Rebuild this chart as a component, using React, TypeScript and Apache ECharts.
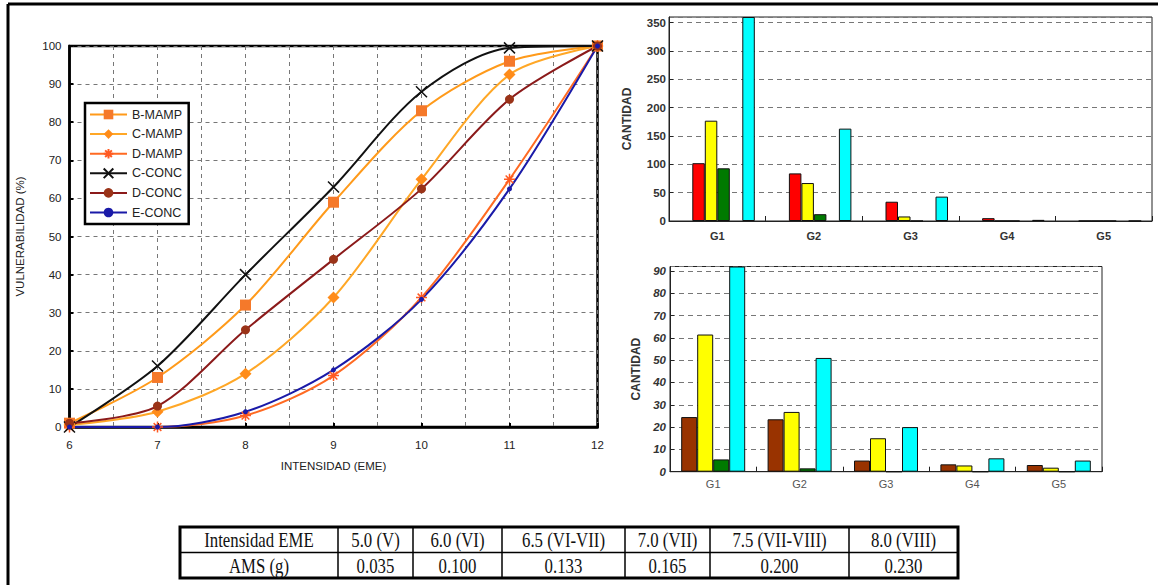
import React, { useEffect, useRef } from "react";
import * as echarts from "echarts";

// ---------- Left chart data ----------
const intensities = [6, 7, 8, 9, 10, 11, 12];
const seriesNames = ["B-MAMP", "C-MAMP", "D-MAMP", "C-CONC", "D-CONC", "E-CONC"];
const bMamp = [1, 13, 32, 59, 83, 96, 100];
const cMamp = [0.5, 4, 14, 34, 65, 92.5, 100];
const dMamp = [0, 0, 3, 13.5, 34, 65, 100];
const cConc = [0, 16, 40, 63, 88, 99.5, 100];
const dConc = [1, 5.5, 25.5, 44, 62.5, 86, 100];
const eConc = [0, 0, 4, 15, 33.5, 62.5, 100];
const yTicksLeft = [0, 100, 10];

// ---------- Right charts data ----------
const groups = ["G1", "G2", "G3", "G4", "G5"];
const topBlank = [0, 0, 0, 0, 0];
const topRed = [102, 84, 34, 5, 0];
const topYellow = [177, 67, 8, 0, 0];
const topGreen = [93, 12, 0, 0, 0];
const topEmpty = [0, 0, 0, 0, 0];
const topCyan = [360, 163, 43, 2, 0];

const botBrown = [24.5, 23.5, 5, 3.3, 3];
const botYellow = [61.5, 26.8, 15, 2.8, 1.8];
const botGreen = [5.5, 1.5, 0, 0, 0];
const botCyan = [92, 51, 20, 6, 5];

// ---------- Table data ----------
const tableHeader = ["Intensidad EME", "5.0 (V)", "6.0 (VI)", "6.5 (VI-VII)", "7.0 (VII)", "7.5 (VII-VIII)", "8.0 (VIII)"];
const tableRow = ["AMS (g)", "0.035", "0.100", "0.133", "0.165", "0.200", "0.230"];

const SANS = '"Liberation Sans", Arial, Helvetica, sans-serif';
const SERIF = '"Liberation Serif", "Times New Roman", serif';

const X_PATH = "path://M0,0L10,10M10,0L0,10";
const STAR_PATH = "path://M5,0L5,10M0,5L10,5M1.5,1.5L8.5,8.5M8.5,1.5L1.5,8.5";

function pairs(ys: number[]) {
  return intensities.map((x, i) => [x, ys[i]]);
}

function lineSeries(name: string, ys: number[], lineColor: string, markColor: string, symbol: string, size: number, stroked = false) {
  return {
    type: "line",
    name,
    xAxisIndex: 0,
    yAxisIndex: 0,
    data: pairs(ys),
    smooth: 0.3,
    symbol,
    symbolSize: size,
    showAllSymbol: true,
    lineStyle: { color: lineColor, width: 2 },
    itemStyle: stroked
      ? { color: markColor, borderColor: markColor, borderWidth: 1.5 }
      : { color: markColor, borderColor: markColor, borderWidth: 0 },
  };
}

function barSeries(name: string, data: number[], color: string, xi: number, width: number, border = true) {
  return {
    type: "bar",
    name,
    xAxisIndex: xi,
    yAxisIndex: xi,
    data,
    barWidth: width,
    barGap: "0%",
    itemStyle: { color, borderColor: border ? "#111" : "transparent", borderWidth: border ? 1 : 0 },
  };
}

export default function App() {
  const ref = useRef<HTMLDivElement>(null);
  useEffect(() => {
    document.body.style.margin = "0";
    const chart = echarts.init(ref.current!, null, { renderer: "svg" });

    const colEdges = [180, 338, 413, 502, 625, 710, 849, 958];
    const tTop = 527, tMid = 552.5, tBot = 578;
    const graphics: any[] = [
      { type: "line", shape: { x1: 8, y1: 4, x2: 1158, y2: 4 }, style: { stroke: "#000", lineWidth: 3 } },
      { type: "line", shape: { x1: 8, y1: 4, x2: 8, y2: 585 }, style: { stroke: "#000", lineWidth: 3 } },
      { type: "rect", shape: { x: colEdges[0], y: tTop, width: colEdges[7] - colEdges[0], height: tBot - tTop }, style: { fill: "#fff", stroke: "#000", lineWidth: 3 } },
      { type: "line", shape: { x1: colEdges[0], y1: tMid, x2: colEdges[7], y2: tMid }, style: { stroke: "#000", lineWidth: 1.5 } },
    ];
    for (let i = 1; i < colEdges.length - 1; i++) {
      graphics.push({ type: "line", shape: { x1: colEdges[i], y1: tTop, x2: colEdges[i], y2: tBot }, style: { stroke: "#000", lineWidth: 1.5 } });
    }
    for (let i = 0; i < tableHeader.length; i++) {
      const cx = (colEdges[i] + colEdges[i + 1]) / 2;
      graphics.push({
        type: "text", x: cx, y: (tTop + tMid) / 2 + 1, scaleY: 1.25, scaleX: 1.05,
        style: { text: tableHeader[i], font: `16px ${SERIF}`, fill: "#111", textAlign: "center", textVerticalAlign: "middle" },
      });
      graphics.push({
        type: "text", x: cx, y: (tMid + tBot) / 2 + 1, scaleY: 1.25, scaleX: 1.05,
        style: { text: tableRow[i], font: `16px ${SERIF}`, fill: "#111", textAlign: "center", textVerticalAlign: "middle" },
      });
    }

    const dash = { type: [4, 4], color: "#777", width: 1 };

    const option: any = {
      animation: false,
      backgroundColor: "#fff",
      textStyle: { fontFamily: SANS },
      graphic: graphics,
      legend: {
        data: seriesNames,
        orient: "vertical",
        left: 85,
        top: 103,
        itemWidth: 37,
        itemHeight: 12,
        itemGap: 6.6,
        padding: [5, 6, 5, 4],
        borderColor: "#000",
        borderWidth: 2.5,
        backgroundColor: "#fff",
        textStyle: { fontSize: 12.5, color: "#222", fontFamily: SANS },
      },
      grid: [
        { left: 69.5, top: 46, width: 528, height: 381, show: true, borderColor: "#000", borderWidth: 2.5, backgroundColor: "transparent" },
        { left: 669, top: 17, width: 483, height: 204, show: true, borderColor: "#222", borderWidth: 1 },
        { left: 670, top: 266.5, width: 432, height: 205.2, show: true, borderColor: "#222", borderWidth: 1 },
      ],
      xAxis: [
        {
          type: "value", gridIndex: 0, min: 6, max: 12, interval: 1,
          name: "INTENSIDAD (EME)", nameLocation: "middle", nameGap: 33,
          nameTextStyle: { fontSize: 11.5, color: "#222" },
          axisLine: { show: true, lineStyle: { color: "#000", width: 2.5 } },
          axisTick: { show: true, inside: true, length: 4, lineStyle: { color: "#000", width: 2 } },
          axisLabel: { fontSize: 11.5, color: "#222", margin: 12 },
          splitLine: { show: true, lineStyle: dash },
          minorTick: { show: false, splitNumber: 2 },
          minorSplitLine: { show: true, lineStyle: dash },
        },
        {
          type: "category", gridIndex: 1, data: groups,
          axisLine: { show: true, lineStyle: { color: "#222", width: 1 } },
          axisTick: { show: true, inside: true, length: 5, lineStyle: { color: "#222" } },
          axisLabel: { fontSize: 11, fontWeight: "bold", color: "#333", margin: 9 },
          splitLine: { show: false },
        },
        {
          type: "category", gridIndex: 2, data: groups,
          axisLine: { show: true, lineStyle: { color: "#222", width: 1 } },
          axisTick: { show: true, inside: true, length: 5, lineStyle: { color: "#222" } },
          axisLabel: { fontSize: 11, color: "#555", margin: 7 },
          splitLine: { show: false },
        },
      ],
      yAxis: [
        {
          type: "value", gridIndex: 0, min: yTicksLeft[0], max: yTicksLeft[1], interval: yTicksLeft[2],
          name: "VULNERABILIDAD (%)", nameLocation: "middle", nameGap: 44,
          nameTextStyle: { fontSize: 11.5, color: "#222" },
          axisLine: { show: true, lineStyle: { color: "#000", width: 2.5 } },
          axisTick: { show: true, inside: true, length: 4, lineStyle: { color: "#000", width: 2 } },
          axisLabel: { fontSize: 11.5, color: "#222", margin: 8 },
          splitLine: { show: true, lineStyle: dash },
        },
        {
          type: "value", gridIndex: 1, min: 0, max: 360, interval: 50,
          name: "CANTIDAD", nameLocation: "middle", nameGap: 36,
          nameTextStyle: { fontSize: 12, fontWeight: "bold", color: "#333" },
          axisLine: { show: true, lineStyle: { color: "#222", width: 1 } },
          axisTick: { show: true, inside: true, length: 4, lineStyle: { color: "#222" } },
          axisLabel: { fontSize: 11.5, fontWeight: "bold", color: "#333", margin: 3, showMaxLabel: false },
          splitLine: { show: true, lineStyle: { type: [5, 4], color: "#777", width: 1 } },
        },
        {
          type: "value", gridIndex: 2, min: 0, max: 92, interval: 10,
          name: "CANTIDAD", nameLocation: "middle", nameGap: 28,
          nameTextStyle: { fontSize: 12, fontWeight: "bold", color: "#333" },
          axisLine: { show: true, lineStyle: { color: "#222", width: 1 } },
          axisTick: { show: true, inside: true, length: 4, lineStyle: { color: "#222" } },
          axisLabel: { fontSize: 11.5, fontWeight: "bold", fontStyle: "italic", color: "#333", margin: 4, showMaxLabel: false },
          splitLine: { show: true, lineStyle: { type: [5, 4], color: "#777", width: 1 } },
        },
      ],
      series: [
        lineSeries("B-MAMP", bMamp, "#ff9a1a", "#f5792a", "rect", 11),
        lineSeries("C-MAMP", cMamp, "#ffa726", "#ff8c1a", "diamond", 12),
        lineSeries("D-MAMP", dMamp, "#ff6a22", "#ff5a22", STAR_PATH, 11, true),
        lineSeries("C-CONC", cConc, "#111111", "#111111", X_PATH, 11, true),
        lineSeries("D-CONC", dConc, "#8b1a1a", "#9a3318", "circle", 9),
        lineSeries("E-CONC", eConc, "#1a1aa8", "#1a1aa8", "circle", 5),
        barSeries("t0", topBlank, "#8b2500", 1, 12.5, false),
        barSeries("t1", topRed, "#ff0000", 1, 12.5),
        barSeries("t2", topYellow, "#ffff00", 1, 12.5),
        barSeries("t3", topGreen, "#007a00", 1, 12.5),
        barSeries("t4", topEmpty, "#8b2500", 1, 12.5, false),
        barSeries("t5", topCyan, "#00ffff", 1, 12.5),
        barSeries("b1", botBrown, "#993300", 2, 16),
        barSeries("b2", botYellow, "#ffff00", 2, 16),
        barSeries("b3", botGreen, "#007a00", 2, 16),
        barSeries("b4", botCyan, "#00ffff", 2, 16),
      ],
    };
    chart.setOption(option);
    return () => chart.dispose();
  }, []);
  return <div ref={ref} style={{ width: 1158, height: 585, background: "#fff" }} />;
}
